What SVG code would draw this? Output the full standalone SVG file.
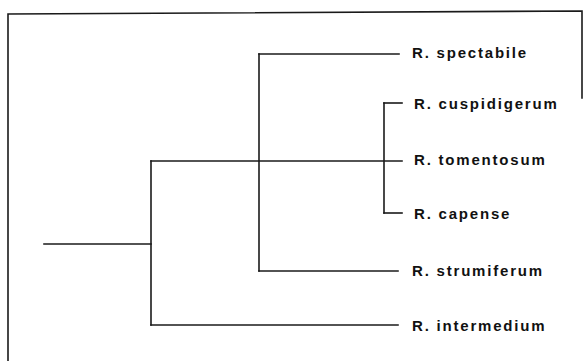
<svg xmlns="http://www.w3.org/2000/svg" width="583" height="361" viewBox="0 0 583 361">
<style>
.ln{fill:none;stroke:#1a1a1a;stroke-width:1.6;stroke-linecap:square}
.lb{font-family:"Liberation Sans",Arial,sans-serif;font-size:15px;font-weight:bold;letter-spacing:1.8px;fill:#111}
</style>
<rect width="583" height="361" fill="#fff"/>
<path class="ln" d="M8,361 L8,14 L582,11 L582,98"/>
<g id="connectors">
<path class="ln" d="M44,244 H151"/>
<path class="ln" d="M151,161 V325"/>
<path class="ln" d="M151,161 H402"/>
<path class="ln" d="M151,325 H398"/>
<path class="ln" d="M259,54 V271"/>
<path class="ln" d="M259,54 H399"/>
<path class="ln" d="M259,271 H398"/>
<path class="ln" d="M384,103 V213"/>
<path class="ln" d="M384,103 H402"/>
<path class="ln" d="M384,213 H402"/>
</g>
<g id="n-spectabile"><text class="lb" x="412" y="58">R. spectabile</text></g>
<g id="n-cuspidigerum"><text class="lb" x="414" y="109">R. cuspidigerum</text></g>
<g id="n-tomentosum"><text class="lb" x="414" y="165">R. tomentosum</text></g>
<g id="n-capense"><text class="lb" x="414" y="219">R. capense</text></g>
<g id="n-strumiferum"><text class="lb" x="412" y="276">R. strumiferum</text></g>
<g id="n-intermedium"><text class="lb" x="412" y="331">R. intermedium</text></g>
</svg>
